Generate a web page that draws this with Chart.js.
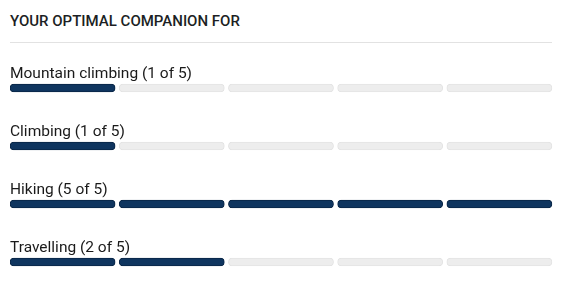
<!DOCTYPE html>
<html>
<head>
<meta charset="utf-8">
<script src="https://cdn.jsdelivr.net/npm/chart.js@4"></script>
<style>
  html, body { margin: 0; padding: 0; background: #fff; }
  #wrap { position: relative; width: 575px; height: 291px; }
  #title {
    position: absolute; left: 10px; top: 12px; width: 542px;
    font-family: Roboto, sans-serif; font-weight: 500; font-size: 15px;
    color: #1c1f24; padding-bottom: 12px; border-bottom: 1px solid #e2e2e2;
  }
  canvas { position: absolute; left: 0; top: 0; }
</style>
</head>
<body>
<div id="wrap">
  <div id="title">YOUR OPTIMAL COMPANION FOR</div>
  <canvas id="c" width="575" height="291"></canvas>
</div>
<script>
// 資料
const activities = ['Mountain climbing', 'Climbing', 'Hiking', 'Travelling'];
const scores = [1, 1, 5, 2];
const maxScore = 5;

const filledColor = '#0f355f';
const filledBorder = '#0a2646';
const emptyColor = '#ededed';
const emptyBorder = '#e3e3e3';
const gap = 0.037; // 段與段之間的空隙 (以刻度單位)

// 每一段是一個 dataset，用浮動長條表示
const datasets = [];
for (let i = 0; i < maxScore; i++) {
  datasets.push({
    label: 'seg' + i,
    data: scores.map(() => [i, i + 1 - gap]),
    backgroundColor: scores.map(s => i < s ? filledColor : emptyColor),
    borderColor: scores.map(s => i < s ? filledBorder : emptyBorder),
    borderWidth: 1,
    borderRadius: 5,
    borderSkipped: false,
    barThickness: 8,
    grouped: false,
  });
}

// 在每條上方畫標籤
const rowLabelPlugin = {
  id: 'rowLabels',
  afterDatasetsDraw(chart) {
    const { ctx, scales: { y }, chartArea } = chart;
    ctx.save();
    ctx.font = '15.5px Roboto, sans-serif';
    ctx.fillStyle = '#1a1a1a';
    ctx.textBaseline = 'alphabetic';
    ctx.textAlign = 'left';
    activities.forEach((name, i) => {
      const yc = y.getPixelForValue(i);
      ctx.fillText(`${name} (${scores[i]} of ${maxScore})`, chartArea.left, yc - 10);
    });
    ctx.restore();
  }
};

new Chart(document.getElementById('c'), {
  type: 'bar',
  data: { labels: activities, datasets },
  options: {
    indexAxis: 'y',
    responsive: false,
    animation: false,
    layout: { padding: { top: 59, bottom: 0, left: 10, right: 19 } },
    plugins: {
      legend: { display: false },
      tooltip: { enabled: false },
    },
    scales: {
      x: { display: false, min: 0, max: maxScore },
      y: { display: false },
    },
  },
  plugins: [rowLabelPlugin],
});
</script>
</body>
</html>
